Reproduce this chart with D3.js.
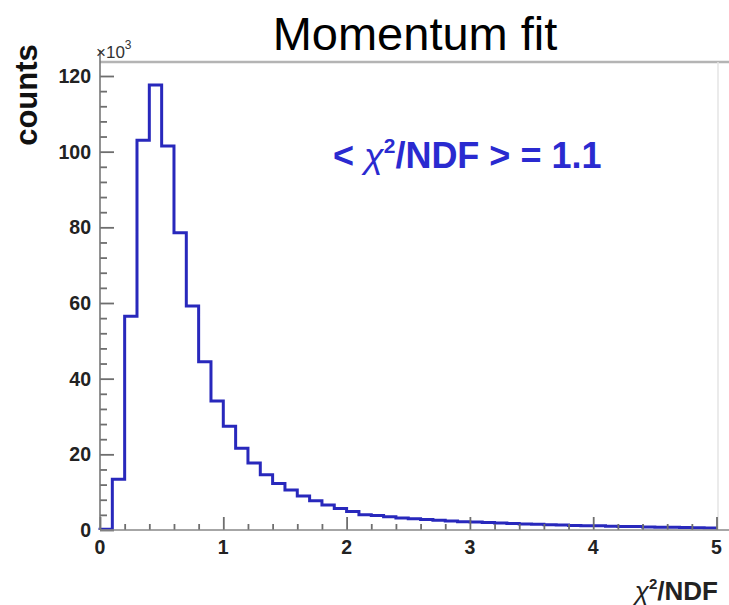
<!DOCTYPE html>
<html>
<head>
<meta charset="utf-8">
<script src="https://cdn.jsdelivr.net/npm/d3@7"></script>
<style>
  body { margin: 0; background: #fff; }
  svg { display: block; font-family: "Liberation Sans", Arial, sans-serif; }
</style>
</head>
<body>
<svg id="chart" width="729" height="605"></svg>
<script>
// chi2/NDF of the momentum fit, 0.1 wide bins from 0 to 5, counts in units of 10^3
var binWidth = 0.1;
var counts = [
  0.2, 13.4, 56.5, 103.0, 117.6, 101.5, 78.6, 59.2, 44.5, 34.1,
  27.4, 21.6, 17.7, 14.6, 12.3, 10.6, 9.0, 7.7, 6.6, 5.7,
  4.9, 4.0, 3.8, 3.5, 3.2, 3.0, 2.8, 2.6, 2.4, 2.2,
  2.1, 2.0, 1.85, 1.7, 1.6, 1.5, 1.4, 1.3, 1.2, 1.15,
  1.1, 1.0, 0.95, 0.9, 0.8, 0.75, 0.7, 0.65, 0.6, 0.55
];
var xTicks = [0, 1, 2, 3, 4, 5];
var yTicks = [0, 20, 40, 60, 80, 100, 120];
var meanLabel = "1.1";

var svg = d3.select("#chart");

var x = d3.scaleLinear().domain([0, 5]).range([100, 716.5]);
var y = d3.scaleLinear().domain([0, 123.7]).range([530, 62]);

var frameLeft = x.range()[0], frameRight = x.range()[1];
var frameTop = y.range()[1], frameBottom = y.range()[0];

// frame (top and right sides are light)
svg.append("line")
  .attr("x1", frameLeft).attr("x2", 729)
  .attr("y1", frameTop).attr("y2", frameTop)
  .attr("stroke", "#b4b4b4").attr("stroke-width", 2.5);
svg.append("line")
  .attr("x1", frameRight + 1.5).attr("x2", frameRight + 1.5)
  .attr("y1", frameTop).attr("y2", frameBottom)
  .attr("stroke", "#e4e4e4").attr("stroke-width", 1.5);

// histogram outline
var points = counts.map(function(d, i) { return [i * binWidth, d]; });
points.push([counts.length * binWidth, counts[counts.length - 1]]);
points.unshift([0, 0]);

var line = d3.line()
  .x(function(d) { return x(d[0]); })
  .y(function(d) { return y(d[1]); })
  .curve(d3.curveStepAfter);

svg.append("path")
  .datum(points)
  .attr("d", line)
  .attr("fill", "none")
  .attr("stroke", "#2828bc")
  .attr("stroke-width", 3)
  .attr("stroke-linejoin", "miter");

// axes, ROOT style: ticks pointing into the frame
var yAxis = d3.axisRight(y)
  .tickValues(d3.range(0, 124, 4))
  .tickSize(7)
  .tickFormat("");
var yg = svg.append("g").attr("transform", "translate(" + frameLeft + ",0)").call(yAxis);
yg.selectAll(".tick line")
  .filter(function(d) { return d % 20 === 0; })
  .attr("x2", 14);

var xAxis = d3.axisTop(x)
  .tickValues(d3.range(0, 5.01, 0.2).map(function(d) { return +d.toFixed(1); }))
  .tickSize(6)
  .tickFormat("");
var xg = svg.append("g").attr("transform", "translate(0," + frameBottom + ")").call(xAxis);
xg.selectAll(".tick line")
  .filter(function(d) { return Math.abs(d - Math.round(d)) < 1e-6; })
  .attr("y2", -13);

svg.selectAll(".domain").attr("stroke", "none");
svg.selectAll(".tick line").attr("stroke", "#6e6e6e").attr("stroke-width", 1.8);

svg.append("line")
  .attr("x1", frameLeft).attr("x2", 729)
  .attr("y1", frameBottom).attr("y2", frameBottom)
  .attr("stroke", "#888").attr("stroke-width", 1.6);
svg.append("line")
  .attr("x1", frameLeft).attr("x2", frameLeft)
  .attr("y1", frameTop - 12).attr("y2", frameBottom)
  .attr("stroke", "#777").attr("stroke-width", 1.6);

// tick labels
svg.append("g").selectAll("text")
  .data(yTicks)
  .enter()
    .append("text")
      .attr("x", 91)
      .attr("y", function(d) { return y(d) + 7; })
      .attr("text-anchor", "end")
      .attr("font-size", 19.5)
      .attr("font-weight", "bold")
      .attr("fill", "#222")
      .text(function(d) { return d; });

svg.append("g").selectAll("text")
  .data(xTicks)
  .enter()
    .append("text")
      .attr("x", function(d) { return x(d); })
      .attr("y", frameBottom + 24)
      .attr("text-anchor", "middle")
      .attr("font-size", 19.5)
      .attr("font-weight", "bold")
      .attr("fill", "#222")
      .text(function(d) { return d; });

// x10^3 multiplier
var mult = svg.append("text")
  .attr("x", 96).attr("y", 58)
  .attr("font-size", 17)
  .attr("fill", "#333");
mult.append("tspan").text("\u00d710");
mult.append("tspan").attr("font-size", 12).attr("dy", -9).text("3");

// titles
svg.append("text")
  .attr("x", 415).attr("y", 50)
  .attr("text-anchor", "middle")
  .attr("font-size", 47)
  .attr("fill", "#000")
  .text("Momentum fit");

svg.append("text")
  .attr("transform", "translate(37,95)rotate(-90)")
  .attr("text-anchor", "middle")
  .attr("font-size", 31)
  .attr("font-weight", "bold")
  .attr("fill", "#111")
  .text("counts");

var xTitle = svg.append("text")
  .attr("x", 718).attr("y", 600)
  .attr("text-anchor", "end")
  .attr("font-size", 26)
  .attr("font-weight", "bold")
  .attr("fill", "#222");
xTitle.append("tspan").attr("font-style", "italic").attr("font-weight", "normal").text("\u03c7");
xTitle.append("tspan").attr("font-size", 15).attr("dy", -11).text("2");
xTitle.append("tspan").attr("dy", 11).text("/NDF");

// mean annotation
var note = svg.append("text")
  .attr("x", 333).attr("y", 168)
  .attr("font-size", 36)
  .attr("font-weight", "bold")
  .attr("fill", "#2a2ad0");
note.append("tspan").text("< ");
note.append("tspan").attr("font-style", "italic").attr("font-weight", "normal").text("\u03c7");
note.append("tspan").attr("font-size", 21).attr("dy", -15).text("2");
note.append("tspan").attr("dy", 15).text("/NDF > = " + meanLabel);
</script>
</body>
</html>
